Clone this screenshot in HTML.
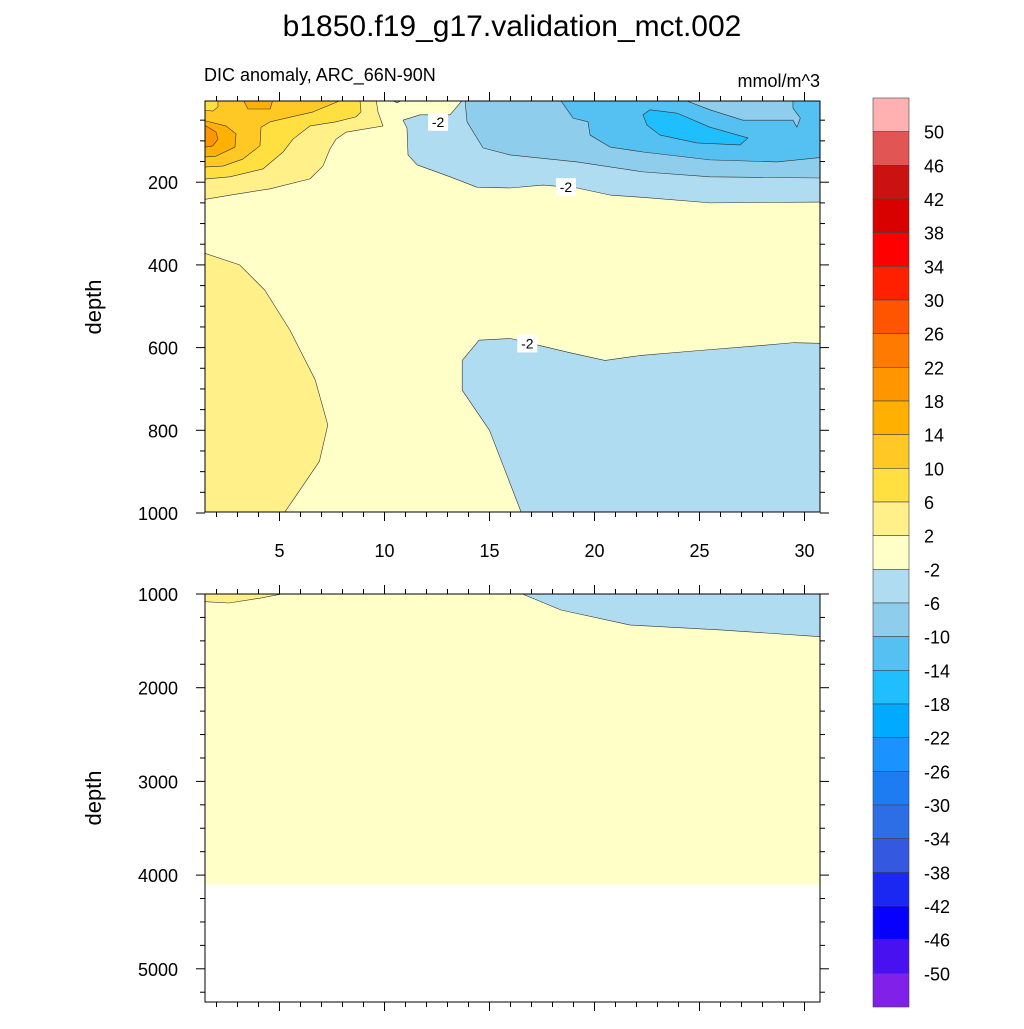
<!DOCTYPE html>
<html><head><meta charset="utf-8"><style>
body{margin:0;background:#fff}
svg text{font-family:"Liberation Sans",sans-serif;fill:#000}
</style></head><body>
<svg id="c" width="1024" height="1024" xmlns="http://www.w3.org/2000/svg">
<defs>
<clipPath id="cp1"><rect x="205" y="101" width="615" height="411"/></clipPath>
<clipPath id="cp2"><rect x="205" y="594" width="615" height="408"/></clipPath>
</defs>
<text x="512" y="36" font-size="30" text-anchor="middle">b1850.f19_g17.validation_mct.002</text>
<text x="204" y="81" font-size="18">DIC anomaly, ARC_66N-90N</text>
<text x="820" y="87" font-size="18" text-anchor="end">mmol/m^3</text>
<text transform="translate(101,307) rotate(-90)" font-size="22" text-anchor="middle">depth</text>
<text transform="translate(101,798) rotate(-90)" font-size="22" text-anchor="middle">depth</text>
<g id="p1" clip-path="url(#cp1)"></g>
<g id="p2" clip-path="url(#cp2)"></g>
<g id="ax"></g>
<g id="cb"></g>
</svg>
<script>
const NS='http://www.w3.org/2000/svg';
const cbLabels=[50,46,42,38,34,30,26,22,18,14,10,6,2,-2,-6,-10,-14,-18,-22,-26,-30,-34,-38,-42,-46,-50];
const cbColors=['#ffb0b0','#e25555','#cc1111','#d90000','#ff0000','#ff2000','#ff5500','#ff7a00','#ff9600','#ffb000','#ffc825','#ffe040','#fff08a','#ffffc8','#b0dcf2','#8ecdec','#55c0f2','#1ebeff','#00aaff','#1a92ff','#1e7cf2','#2d6ee6','#3558e0','#1a28f2','#0800ff','#4812f0','#8020e8'];
const topBg='#ffffc8';
const topRegions=[
 {name:'blue-minus2',c:'#b0dcf2',pts:[[13.74,0],[13.12,37],[11.69,37],[10.88,50],[11.07,69],[11.12,134],[11.55,158],[13.12,187],[14.4,212],[15.98,214],[17.55,207],[19.17,214],[20.74,231],[22.64,238],[25.5,250],[31,248],[31,0]]},
 {name:'blue-minus2-notch',c:'#b0dcf2',pts:[[10.3,0],[10.9,0],[10.6,8]]},
 {name:'blue-minus6',c:'#8ecdec',pts:[[13.83,0],[13.93,54],[14.69,117],[15.98,134],[19.17,151],[22.31,175],[25.5,187],[31,190],[31,0]]},
 {name:'blue-minus10',c:'#55c0f2',pts:[[18.36,0],[18.98,45],[19.69,54],[19.79,86],[20.74,115],[22.31,127],[25.5,146],[28.69,151],[31,139],[31,0]]},
 {name:'blue-minus6-pocket',c:'#8ecdec',pts:[[24.21,0],[25.5,25],[27.07,50],[29.45,50],[29.64,67],[29.8,45],[29.45,21],[29.45,0]]},
 {name:'blue-minus14',c:'#1ebeff',pts:[[22.31,37],[22.64,25],[23.93,33],[25.5,67],[27.31,93],[26.93,110],[24.88,105],[23.12,86],[22.5,62]]},
 {name:'warm-2',c:'#fff08a',pts:[[0,0],[9.6,0],[9.69,30],[9.93,64],[8.17,79],[7.69,96],[7.4,120],[7.07,161],[6.45,192],[4.55,216],[2.93,229],[1.5,241],[0,241]]},
 {name:'warm-6',c:'#ffe040',pts:[[0,0],[8.83,0],[8.88,30],[8.64,42],[7.69,54],[6.45,64],[5.64,96],[5.17,127],[4.21,168],[2.64,187],[1.5,192],[0,192]]},
 {name:'warm-10',c:'#ffc825',pts:[[0,0],[8.02,0],[6.6,30],[4.55,54],[4.12,67],[4.07,112],[3.26,144],[2.31,161],[1.5,163],[0,163]]},
 {name:'warm-6-pocket',c:'#ffe040',pts:[[0,0],[2.07,0],[2.07,18],[1.83,28],[1.5,26],[0,26]]},
 {name:'warm-14-top',c:'#ffb000',pts:[[3.26,0],[3.5,23],[4.55,23],[4.69,0]]},
 {name:'warm-14',c:'#ffb000',pts:[[0,52],[1.5,52],[2.45,64],[2.93,83],[2.88,115],[1.98,137],[1.5,139],[0,139]]},
 {name:'warm-18',c:'#ff9600',pts:[[0,64],[1.5,64],[1.98,79],[2.07,96],[1.83,112],[1.5,115],[0,115]]},
 {name:'mid-warm-2',c:'#fff08a',pts:[[0,372],[1.45,372],[3.1,400],[4.3,461],[5.5,558],[6.7,678],[7.3,787],[6.9,875],[5.98,944],[5.26,997],[4.9,1100],[0,1100]]},
 {name:'deep-blue-minus2',c:'#b0dcf2',pts:[[16.7,1100],[16.5,997],[15.0,800],[13.7,703],[13.7,631],[14.5,582],[16,578],[17.4,595],[18.8,612],[20.5,631],[22.2,619],[25,607],[27.9,595],[29.5,588],[31,590],[31,1100]]}
];
const botRegions=[
 {name:'deep-blue-minus2',c:'#b0dcf2',pts:[[15.5,900],[18.4,1171],[21.7,1331],[26,1384],[31,1459],[31,900]]},
 {name:'deep-warm-2',c:'#fff08a',pts:[[0,900],[5.1,900],[5.1,1000],[4.1,1043],[2.6,1096],[0,1064]]}
];
const botFillDepth=4100;
const labels=[{x:12.55,d:54,t:'-2'},{x:18.64,d:212,t:'-2'},{x:16.8,d:590,t:'-2'}];
const xTicks=[5,10,15,20,25,30];
const yTicksTop=[200,400,600,800,1000];
const yTicksBot=[1000,2000,3000,4000,5000];

const X=v=>206+(v-1.5)*21;
const Y1=d=>99.5+d*0.4135;
const Y2=d=>594+(d-1000)*0.0937;
function el(t,a,p){const e=document.createElementNS(NS,t);for(const k in a)e.setAttribute(k,a[k]);p.appendChild(e);return e;}
const p1=document.getElementById('p1'),p2=document.getElementById('p2'),ax=document.getElementById('ax'),cb=document.getElementById('cb');
let r=el('rect',{x:205,y:101,width:615,height:411,fill:topBg},p1);


topRegions.forEach(g=>{const e=el('polygon',{points:g.pts.map(p=>X(p[0])+','+Y1(p[1])).join(' '),fill:g.c,stroke:'#333','stroke-width':0.6,'stroke-linejoin':'round'},p1);

});
r=el('rect',{x:205,y:594,width:615,height:Y2(botFillDepth)-594,fill:topBg},p2);


botRegions.forEach(g=>{const e=el('polygon',{points:g.pts.map(p=>X(p[0])+','+Y2(p[1])).join(' '),fill:g.c,stroke:'#333','stroke-width':0.6},p2);

});
labels.forEach(l=>{const x=X(l.x),y=Y1(l.d);
const b=el('rect',{x:x-10,y:y-9,width:20,height:18,fill:'#fff'},p1);


const t=el('text',{x:x,y:y+5,'font-size':14,'text-anchor':'middle'},p1);t.textContent=l.t;

});
function frame(y0,h,name){const f=el('rect',{x:205,y:y0,width:615,height:h,fill:'none',stroke:'#000','stroke-width':1},ax);

}
frame(101,411,'top-panel-frame');frame(594,408,'bottom-panel-frame');
function line(x1,y1,x2,y2){el('line',{x1,y1,x2,y2,stroke:'#000','stroke-width':1},ax);}
[[101,512],[594,1002]].forEach(([t,b])=>{
 for(let v=2;v<=30;v++){const x=X(v),L=v%5==0?9:5;line(x,t,x,t-L);line(x,b,x,b+L);}
});
xTicks.forEach(v=>{const t=el('text',{x:X(v),y:557,'font-size':18,'text-anchor':'middle'},ax);t.textContent=v;

});
for(let d=50;d<=1000;d+=50){const y=Y1(d),L=d%200==0?9:5;line(205,y,205-L,y);line(820,y,820+L,y);}
yTicksTop.forEach(d=>{const t=el('text',{x:178,y:Y1(d)+7,'font-size':18,'text-anchor':'end'},ax);t.textContent=d;

});
for(let d=1000;d<=5250;d+=250){const y=Y2(d),L=d%1000==0?9:5;line(205,y,205-L,y);line(820,y,820+L,y);}
yTicksBot.forEach(d=>{const t=el('text',{x:178,y:Y2(d)+7,'font-size':18,'text-anchor':'end'},ax);t.textContent=d;

});
const n=cbLabels.length+1,cbTop=98,bh=(1007-98)/n;
for(let i=0;i<n;i++){const b=el('rect',{x:873,y:cbTop+i*bh,width:36,height:bh,fill:cbColors[i],stroke:'#444','stroke-width':0.6},cb);

}
cbLabels.forEach((v,i)=>{const t=el('text',{x:924,y:cbTop+(i+1)*bh+7,'font-size':18},cb);t.textContent=v;

});
</script>
</body></html>
